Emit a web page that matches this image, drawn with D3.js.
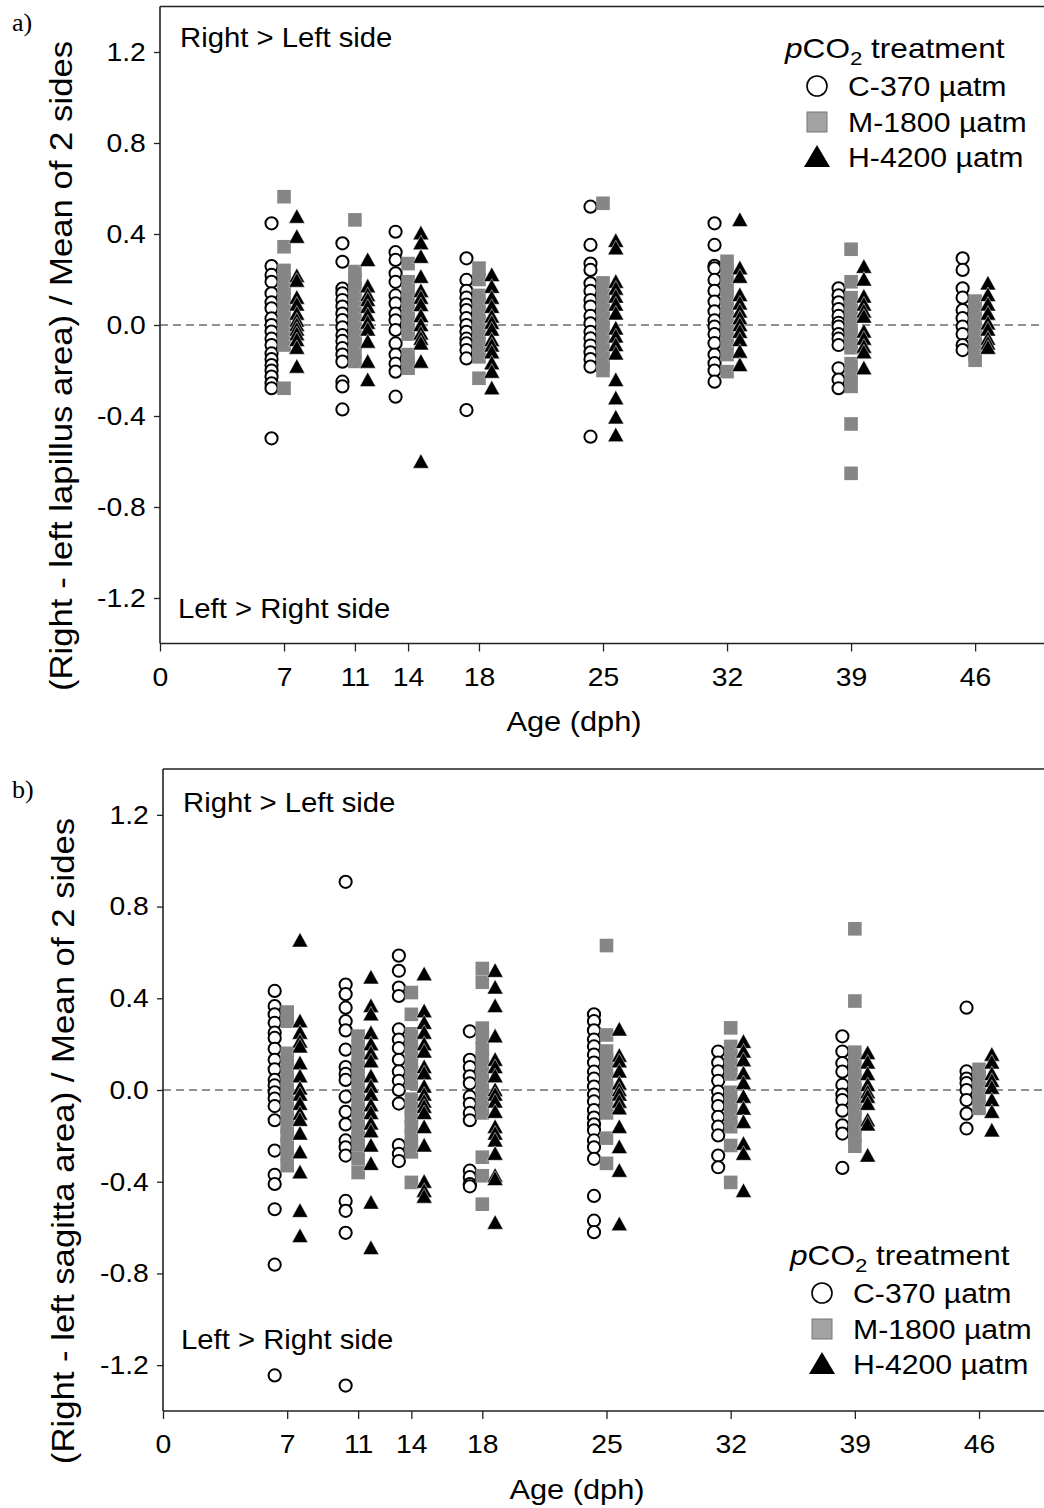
<!DOCTYPE html>
<html><head><meta charset="utf-8">
<script src="https://cdn.jsdelivr.net/npm/d3@7"></script>
<style>
body{margin:0;background:#fff}
svg{display:block}
text{font-family:"Liberation Sans",Arial,Helvetica,sans-serif;fill:#000}
</style>
</head><body>
<svg id="chart" width="1044" height="1508"></svg>
<script>
// ---------- data ----------
const ages = [7, 11, 14, 18, 25, 32, 39, 46];
const xTickValues = [0, 7, 11, 14, 18, 25, 32, 39, 46];
const yTickValues = [-1.2, -0.8, -0.4, 0.0, 0.4, 0.8, 1.2];
const seriesNames = ["C-370 \u00b5atm", "M-1800 \u00b5atm", "H-4200 \u00b5atm"];

// Panel a: lapillus asymmetry, one list per age
const lapC = [
  [0.447,0.259,0.22,0.19,0.139,0.1,0.073,0.029,0,-0.029,-0.06,-0.088,-0.125,-0.15,-0.176,-0.2,-0.227,-0.256,-0.278,-0.498],
  [0.359,0.278,0.16,0.139,0.11,0.081,0.05,0.022,-0.01,-0.044,-0.07,-0.102,-0.13,-0.161,-0.249,-0.27,-0.371],
  [0.41,0.32,0.286,0.227,0.19,0.13,0.095,0.05,0.02,-0.022,-0.081,-0.13,-0.17,-0.205,-0.315],
  [0.293,0.198,0.15,0.12,0.09,0.066,0.03,0.0,-0.03,-0.06,-0.081,-0.11,-0.147,-0.374],
  [0.52,0.352,0.27,0.242,0.183,0.15,0.11,0.081,0.04,0.007,-0.03,-0.059,-0.09,-0.12,-0.15,-0.183,-0.491],
  [0.447,0.352,0.26,0.249,0.198,0.15,0.103,0.06,0.02,-0.007,-0.04,-0.08,-0.13,-0.168,-0.2,-0.249],
  [0.161,0.13,0.1,0.07,0.04,0.01,-0.007,-0.04,-0.06,-0.088,-0.19,-0.24,-0.278],
  [0.293,0.242,0.161,0.12,0.066,0.03,-0.007,-0.04,-0.088,-0.11]
];
const lapM = [
  [0.564,0.344,0.24,0.2,0.16,0.12,0.08,0.04,0.0,-0.04,-0.088,-0.278],
  [0.462,0.235,0.2,0.16,0.12,0.08,0.04,0.0,-0.04,-0.08,-0.12,-0.16],
  [0.27,0.19,0.15,0.11,0.07,0.03,-0.01,-0.04,-0.13,-0.17,-0.19],
  [0.25,0.2,0.13,0.09,0.05,0.01,-0.03,-0.07,-0.11,-0.14,-0.234],
  [0.535,0.185,0.15,0.11,0.07,0.03,-0.01,-0.05,-0.09,-0.13,-0.17,-0.2],
  [0.28,0.24,0.2,0.16,0.12,0.08,0.04,0.0,-0.04,-0.08,-0.13,-0.205],
  [0.333,0.19,0.12,0.08,0.04,0.0,-0.04,-0.08,-0.1,-0.17,-0.22,-0.27,-0.435,-0.652],
  [0.105,0.07,0.03,-0.01,-0.05,-0.09,-0.13,-0.155]
];
const lapH = [
  [0.476,0.388,0.215,0.195,0.12,0.09,0.05,0.02,0.0,-0.02,-0.04,-0.066,-0.10,-0.183],
  [0.286,0.17,0.132,0.11,0.08,0.044,0.01,-0.02,-0.073,-0.161,-0.242],
  [0.403,0.36,0.30,0.212,0.15,0.12,0.088,0.04,0.0,-0.037,-0.06,-0.081,-0.161,-0.601],
  [0.22,0.168,0.12,0.08,0.037,0.01,-0.02,-0.066,-0.09,-0.12,-0.168,-0.205,-0.278],
  [0.37,0.337,0.19,0.16,0.125,0.09,0.051,-0.015,-0.05,-0.088,-0.125,-0.242,-0.322,-0.406,-0.484],
  [0.462,0.25,0.212,0.132,0.095,0.06,0.03,0.0,-0.03,-0.066,-0.117,-0.176],
  [0.256,0.2,0.125,0.09,0.06,0.037,-0.029,-0.06,-0.095,-0.12,-0.19],
  [0.183,0.132,0.09,0.05,0.007,-0.02,-0.06,-0.081,-0.1]
];

// Panel b: sagitta asymmetry
const sagC = [
  [0.432,0.366,0.33,0.293,0.25,0.227,0.18,0.132,0.09,0.044,0.02,-0.01,-0.037,-0.07,-0.132,-0.264,-0.37,-0.41,-0.52,-0.762,-1.245],
  [0.908,0.46,0.418,0.359,0.3,0.26,0.176,0.1,0.07,0.044,-0.029,-0.095,-0.15,-0.22,-0.25,-0.286,-0.484,-0.527,-0.623,-1.289],
  [0.586,0.52,0.447,0.41,0.264,0.22,0.183,0.132,0.081,0.04,0.0,-0.059,-0.24,-0.278,-0.31],
  [0.256,0.132,0.1,0.06,0.029,-0.029,-0.06,-0.1,-0.132,-0.352,-0.38,-0.41,-0.42],
  [0.33,0.3,0.26,0.22,0.19,0.154,0.12,0.08,0.05,0.015,-0.02,-0.05,-0.088,-0.12,-0.15,-0.176,-0.22,-0.25,-0.3,-0.462,-0.57,-0.62],
  [0.168,0.12,0.081,0.04,-0.007,-0.04,-0.07,-0.117,-0.16,-0.198,-0.286,-0.337],
  [0.234,0.168,0.117,0.08,0.022,-0.02,-0.044,-0.09,-0.154,-0.19,-0.34],
  [0.359,0.081,0.05,0.03,0.0,-0.044,-0.103,-0.168]
];
const sagM = [
  [0.34,0.3,0.16,0.12,0.08,0.04,0.0,-0.04,-0.08,-0.12,-0.16,-0.2,-0.24,-0.28,-0.33],
  [0.235,0.19,0.15,0.11,0.07,0.03,-0.01,-0.05,-0.09,-0.13,-0.17,-0.21,-0.24,-0.3,-0.36],
  [0.425,0.33,0.245,0.2,0.16,0.12,0.08,0.03,-0.04,-0.08,-0.12,-0.16,-0.2,-0.24,-0.27,-0.403],
  [0.53,0.47,0.27,0.23,0.18,0.14,0.1,0.06,0.02,-0.02,-0.06,-0.1,-0.293,-0.374,-0.498],
  [0.63,0.24,0.17,0.13,0.09,0.05,0.01,-0.03,-0.07,-0.1,-0.21,-0.32],
  [0.271,0.19,0.15,0.11,0.07,-0.01,-0.05,-0.09,-0.13,-0.16,-0.242,-0.403],
  [0.703,0.388,0.165,0.12,0.08,0.04,0.0,-0.04,-0.08,-0.12,-0.16,-0.2,-0.245],
  [0.09,0.05,0.01,-0.03,-0.08]
];
const sagH = [
  [0.652,0.30,0.25,0.212,0.19,0.117,0.06,0.007,-0.02,-0.06,-0.103,-0.13,-0.19,-0.271,-0.359,-0.527,-0.637],
  [0.491,0.366,0.33,0.249,0.2,0.16,0.125,0.06,0.015,-0.02,-0.066,-0.1,-0.146,-0.18,-0.242,-0.322,-0.491,-0.689],
  [0.505,0.344,0.293,0.25,0.2,0.168,0.1,0.073,0.015,-0.02,-0.05,-0.073,-0.1,-0.161,-0.242,-0.4,-0.44,-0.465],
  [0.52,0.447,0.366,0.234,0.132,0.1,0.06,0.0,-0.02,-0.05,-0.095,-0.161,-0.19,-0.22,-0.278,-0.374,-0.388,-0.579],
  [0.264,0.15,0.125,0.081,0.029,0.0,-0.02,-0.051,-0.08,-0.161,-0.249,-0.352,-0.585],
  [0.21,0.168,0.13,0.073,0.03,-0.029,-0.081,-0.139,-0.234,-0.278,-0.44],
  [0.161,0.12,0.07,0.022,-0.01,-0.029,-0.06,-0.132,-0.15,-0.286],
  [0.154,0.12,0.07,0.04,0.01,-0.044,-0.095,-0.176]
];

// ---------- drawing ----------
const svg = d3.select("#chart");
const GREY = "#868686";

function flat(arr) {
  const out = [];
  arr.forEach((vals, i) => vals.forEach(v => out.push({age: ages[i], v})));
  return out;
}

function stretchedText(g, x, y, str, size, sx, anchor) {
  return g.append("text")
    .attr("transform", `translate(${x},${y}) scale(${sx},1)`)
    .attr("text-anchor", anchor || "start")
    .style("font-size", size + "px")
    .text(str);
}

function triPath(w, h) {
  return `M0,${-h * 0.55}L${w / 2},${h * 0.45}L${-w / 2},${h * 0.45}Z`;
}

function drawPanel(cfg, C, M, H) {
  const g = svg.append("g");
  const x = d3.scaleLinear().domain([0, 50]).range([cfg.left, cfg.left + 50 * cfg.pxPerDay]);
  const y = d3.scaleLinear().domain([-1.4, 1.4]).range([cfg.bottom, cfg.top]);

  // zero reference line
  g.append("line")
    .attr("x1", x(0)).attr("x2", 1044)
    .attr("y1", y(0)).attr("y2", y(0))
    .attr("stroke", "#222").attr("stroke-width", 1.2)
    .attr("stroke-dasharray", "8,5");

  // circles (control)
  g.append("g").selectAll("circle").data(flat(C)).join("circle")
    .attr("cx", d => x(d.age) - 12.5)
    .attr("cy", d => y(d.v))
    .attr("r", 6.1)
    .attr("fill", "#fff").attr("stroke", "#000").attr("stroke-width", 2);

  // squares (medium)
  g.append("g").selectAll("rect").data(flat(M)).join("rect")
    .attr("x", d => x(d.age) - 6.8)
    .attr("y", d => y(d.v) - 6.8)
    .attr("width", 13.6).attr("height", 13.6)
    .attr("fill", GREY);

  // triangles (high)
  g.append("g").selectAll("path").data(flat(H)).join("path")
    .attr("transform", d => `translate(${x(d.age) + 12.8},${y(d.v)})`)
    .attr("d", triPath(16, 14.5))
    .attr("fill", "#000").attr("stroke", "#fff").attr("stroke-width", 0.5);

  // frame (left, top, bottom)
  const fr = g.append("g").attr("stroke", "#222").attr("stroke-width", 1.6).attr("fill", "none");
  fr.append("line").attr("x1", x(0)).attr("x2", x(0)).attr("y1", y(1.4)).attr("y2", y(-1.4));
  fr.append("line").attr("x1", x(0)).attr("x2", 1044).attr("y1", y(1.4)).attr("y2", y(1.4));
  fr.append("line").attr("x1", x(0)).attr("x2", 1044).attr("y1", y(-1.4)).attr("y2", y(-1.4));

  // y axis
  const ya = g.append("g").attr("transform", `translate(${x(0)},0)`)
    .call(d3.axisLeft(y).tickValues(yTickValues).tickSize(6).tickPadding(7)
      .tickFormat(d => d.toFixed(1)));
  ya.select(".domain").remove();
  ya.selectAll(".tick line").attr("stroke", "#222").attr("stroke-width", 1.3);
  ya.selectAll(".tick text")
    .style("font-size", "26px").style("font-family", '"Liberation Sans",Arial,sans-serif')
    .attr("transform", "scale(1.09,1)");

  // x axis
  const xa = g.append("g").attr("transform", `translate(0,${y(-1.4)})`)
    .call(d3.axisBottom(x).tickValues(xTickValues).tickSize(8).tickPadding(16)
      .tickFormat(d => String(d)));
  xa.select(".domain").remove();
  xa.selectAll(".tick line").attr("stroke", "#222").attr("stroke-width", 1.3);
  xa.selectAll(".tick text")
    .style("font-size", "26px").style("font-family", '"Liberation Sans",Arial,sans-serif')
    .attr("transform", "scale(1.09,1)")
    .attr("x", 0);

  // axis titles
  stretchedText(g, x(0) + 414, cfg.xTitleY, "Age (dph)", 28, 1.1, "middle");
  g.append("text")
    .attr("transform", `translate(${cfg.yTitleX},${cfg.yTitleCY}) rotate(-90) scale(1.12,1)`)
    .attr("text-anchor", "middle")
    .attr("dy", "0.35em")
    .style("font-size", "31px")
    .text(cfg.yTitle);

  // annotations
  stretchedText(g, cfg.left + 20, cfg.topNoteY, "Right > Left side", 27, 1.085);
  stretchedText(g, cfg.left + 18, cfg.botNoteY, "Left > Right side", 27, 1.085);

  // panel letter
  g.append("text").attr("x", 12).attr("y", cfg.letterY)
    .style("font-family", '"Liberation Serif","Times New Roman",serif')
    .style("font-size", "26px").text(cfg.letter);

  // legend
  const lg = g.append("g").attr("transform", `translate(${cfg.legX},${cfg.legY})`);
  const t = lg.append("text").attr("transform", `scale(1.17,1)`).style("font-size", "27px");
  t.append("tspan").style("font-style", "italic").text("p");
  t.append("tspan").text("CO");
  t.append("tspan").attr("dy", 7).style("font-size", "19px").text("2");
  t.append("tspan").attr("dy", -7).text(" treatment");
  const rowY = [28, 64, 99];
  const mx = 32;
  lg.append("circle").attr("cx", mx).attr("cy", rowY[0]).attr("r", 10)
    .attr("fill", "#fff").attr("stroke", "#000").attr("stroke-width", 1.6);
  lg.append("rect").attr("x", mx - 10).attr("y", rowY[1] - 10).attr("width", 20).attr("height", 20)
    .attr("fill", "#a3a3a3").attr("stroke", "#777").attr("stroke-width", 1);
  lg.append("path").attr("transform", `translate(${mx},${rowY[2]})`)
    .attr("d", triPath(26, 22)).attr("fill", "#000");
  seriesNames.forEach((s, i) => {
    stretchedText(lg, 63, rowY[i] + 10, s, 27, 1.12);
  });
}

drawPanel({
  letter: "a)", letterY: 31,
  left: 160, pxPerDay: 17.72, top: 6.5, bottom: 643.5,
  xTitleY: 731, yTitleX: 61, yTitleCY: 366,
  yTitle: "(Right - left lapillus area) / Mean of 2 sides",
  topNoteY: 47, botNoteY: 618,
  legX: 785, legY: 58
}, lapC, lapM, lapH);

drawPanel({
  letter: "b)", letterY: 798,
  left: 163, pxPerDay: 17.74, top: 769, bottom: 1411,
  xTitleY: 1499, yTitleX: 63, yTitleCY: 1141,
  yTitle: "(Right - left sagitta area) / Mean of 2 sides",
  topNoteY: 812, botNoteY: 1349,
  legX: 790, legY: 1265
}, sagC, sagM, sagH);
</script>
</body></html>
